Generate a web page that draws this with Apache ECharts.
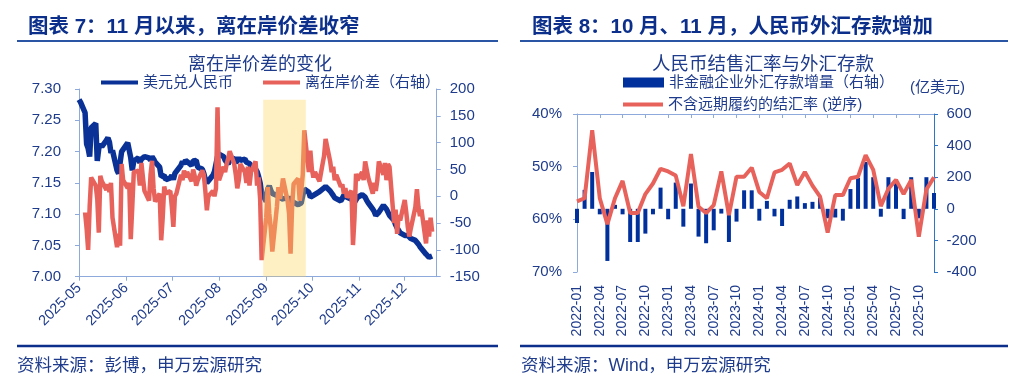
<!DOCTYPE html>
<html><head><meta charset="utf-8">
<script src="https://cdn.jsdelivr.net/npm/echarts@6/dist/echarts.min.js"></script>
<style>html,body{margin:0;padding:0;background:#fff}#c{width:1024px;height:389px}</style>
</head><body><div id="c"></div>
<script>
// ---------- Left chart: 离在岸价差的变化 (daily, 2025) ----------
const fxDays = [
 '05-01','05-02','05-05','05-06','05-07','05-08','05-09','05-12','05-13','05-14','05-15','05-16','05-19','05-20','05-21','05-22','05-23','05-26','05-27','05-28','05-29','05-30',
 '06-02','06-03','06-04','06-05','06-06','06-09','06-10','06-11','06-12','06-13','06-16','06-17','06-18','06-19','06-20','06-23','06-24','06-25','06-26','06-27','06-30',
 '07-01','07-02','07-03','07-04','07-07','07-08','07-09','07-10','07-11','07-14','07-15','07-16','07-17','07-18','07-21','07-22','07-23','07-24','07-25','07-28','07-29','07-30','07-31',
 '08-01','08-04','08-05','08-06','08-07','08-08','08-11','08-12','08-13','08-14','08-15','08-18','08-19','08-20','08-21','08-22','08-25','08-26','08-27','08-28','08-29',
 '09-01','09-02','09-03','09-04','09-05','09-08','09-09','09-10','09-11','09-12','09-15','09-16','09-17','09-18','09-19','09-22','09-23','09-24','09-25','09-26','09-29','09-30',
 '10-01','10-02','10-03','10-06','10-07','10-08','10-09','10-10','10-13','10-14','10-15','10-16','10-17','10-20','10-21','10-22','10-23','10-24','10-27','10-28','10-29','10-30','10-31',
 '11-03','11-04','11-05','11-06','11-07','11-10','11-11','11-12','11-13','11-14','11-17','11-18','11-19','11-20','11-21','11-24','11-25','11-26','11-27','11-28',
 '12-01','12-02','12-03','12-04','12-05','12-08','12-09','12-10','12-11','12-12','12-15','12-16','12-17','12-18','12-19'
];
const usdCny = [
 7.283,7.279,7.262,7.212,7.205,7.192,7.238,7.245,7.185,7.205,7.212,7.208,7.218,7.222,7.215,7.198,7.202,7.170,7.165,7.182,7.200,7.203,
 7.214,7.216,7.190,7.170,7.185,7.190,7.182,7.188,7.186,7.192,7.190,7.186,7.192,7.188,7.183,7.175,7.160,7.158,7.162,7.155,7.158,
 7.162,7.155,7.165,7.168,7.178,7.184,7.180,7.186,7.183,7.178,7.185,7.182,7.186,7.175,7.172,7.165,7.155,7.150,7.153,7.162,7.168,7.180,7.192,
 7.196,7.192,7.186,7.183,7.180,7.186,7.190,7.182,7.185,7.190,7.186,7.188,7.183,7.186,7.181,7.177,7.172,7.168,7.160,7.150,7.135,
 7.120,7.140,7.145,7.138,7.133,7.130,7.127,7.129,7.124,7.122,7.126,7.120,7.128,7.120,7.117,7.115,7.116,7.118,7.130,7.140,7.135,7.127,
 7.128,7.130,7.133,7.136,7.139,7.140,7.143,7.144,7.137,7.136,7.130,7.126,7.123,7.121,7.124,7.130,7.131,7.127,7.124,7.122,7.119,7.121,7.127,
 7.131,7.129,7.127,7.122,7.118,7.108,7.104,7.098,7.096,7.103,7.114,7.112,7.108,7.105,7.098,7.090,7.083,7.078,7.074,7.070,
 7.066,7.068,7.066,7.063,7.061,7.058,7.055,7.052,7.048,7.046,7.036,7.033,7.031,7.034,7.033
];
const cnhSpread = [
 null,null,-30,-60,-100,-20,35,20,-5,-68,38,28,12,22,8,25,-40,-95,-70,-92,60,30,
 15,25,-80,-20,45,48,20,62,35,10,-8,40,66,15,-10,5,-82,-40,18,5,10,
 -20,-57,0,5,40,30,48,35,45,28,50,38,20,30,48,40,10,-26,0,10,0,15,166,
 30,55,45,60,70,84,60,40,15,30,60,45,25,55,20,45,65,20,35,-5,-119,
 -40,17,-32,-60,-103,-20,17,-5,10,33,-8,-32,-107,-20,23,33,-8,10,40,123,45,85,
 50,35,45,28,30,60,75,107,65,45,55,30,40,18,22,5,15,-2,10,-91,-40,42,30,
 45,30,65,50,35,5,25,10,30,65,40,62,30,60,55,-50,-25,-70,-35,-45,
 -7,-30,-57,-75,-60,-20,13,-20,-37,-25,-88,-45,-75,-40,-66
];
const fxYear = '2025-';
const shadeRange = ['2025-08-30','2025-09-27'];

// ---------- Right chart: 人民币结售汇率与外汇存款 (monthly) ----------
const depMonths = [
 '2022-01','2022-02','2022-03','2022-04','2022-05','2022-06','2022-07','2022-08','2022-09','2022-10','2022-11','2022-12',
 '2023-01','2023-02','2023-03','2023-04','2023-05','2023-06','2023-07','2023-08','2023-09','2023-10','2023-11','2023-12',
 '2024-01','2024-02','2024-03','2024-04','2024-05','2024-06','2024-07','2024-08','2024-09','2024-10','2024-11','2024-12',
 '2025-01','2025-02','2025-03','2025-04','2025-05','2025-06','2025-07','2025-08','2025-09','2025-10','2025-11','2025-12'
];
const fxDepositChange = [
 -90,120,233,-35,-330,25,-35,-210,-210,-157,-35,134,
 -66,166,-113,160,-176,-218,-136,-30,-210,-81,117,117,
 -75,50,-48,-109,57,78,36,44,70,-60,-55,-75,
 125,195,297,200,-50,200,170,-65,200,-60,200,100
];
const settleRate = [
 56.6,56.0,43.1,56.0,60.9,56.0,52.7,58.8,58.8,55.2,53.2,50.4,
 50.9,51.7,57.5,47.6,57.6,58.8,57.3,50.9,59.2,51.9,51.9,50.2,
 54.8,56.0,51.1,50.6,49.4,53.5,51.0,53.6,55.7,62.5,55.4,55.4,
 52.2,51.9,47.8,50.6,57.5,54.2,52.5,55.2,52.5,63.3,54.3,52.0
];

const NAVY = '#1F3C8C';
const BLUE = '#0A3296';
const RED = '#E8625C';
const AXIS = '#8EA9DB';
const FONT = '"Liberation Sans", "Noto Sans CJK SC", sans-serif';

const chart = echarts.init(document.getElementById('c'), null, {renderer: 'canvas'});
const txt = (x, y, text, size, opt) => Object.assign({
  type: 'text', x: x, y: y, silent: true,
  style: Object.assign({text: text, fontSize: size, fontFamily: FONT, fill: NAVY, verticalAlign: 'middle', align: 'left'}, opt || {})
});
const rule = (x1, x2, y, w, c) => ({type: 'line', silent: true, shape: {x1: x1, y1: y, x2: x2, y2: y}, style: {stroke: c, lineWidth: w}});
const everyThird = i => i % 3 === 0 && i < depMonths.length - 1;

chart.setOption({
  animation: false,
  backgroundColor: '#fff',
  textStyle: {fontFamily: FONT},
  grid: [
    {left: 79, top: 89, width: 357.7, height: 187.7},
    {left: 577, top: 114, width: 357, height: 158}
  ],
  legend: [
    {data: ['美元兑人民币'], left: 101, top: 75, padding: 0, icon: 'rect', itemWidth: 37, itemHeight: 4, selectedMode: false,
     textStyle: {fontSize: 15, color: NAVY, fontFamily: FONT}},
    {data: ['离在岸价差（右轴）'], left: 263, top: 75, padding: 0, icon: 'rect', itemWidth: 37, itemHeight: 4, selectedMode: false,
     textStyle: {fontSize: 15, color: NAVY, fontFamily: FONT}},
    {data: ['非金融企业外汇存款增量（右轴）'], left: 623, top: 75, padding: 0, icon: 'rect', itemWidth: 41, itemHeight: 10, selectedMode: false,
     textStyle: {fontSize: 15, color: NAVY, fontFamily: FONT}},
    {data: ['不含远期履约的结汇率 (逆序)'], left: 623, top: 97, padding: 0, icon: 'rect', itemWidth: 40, itemHeight: 4, selectedMode: false,
     textStyle: {fontSize: 15, color: NAVY, fontFamily: FONT}}
  ],
  xAxis: [
    {gridIndex: 0, type: 'time', min: '2025-05-01', max: '2025-12-22', splitNumber: 8,
     maxInterval: 31 * 86400000,
     axisLine: {onZero: false, lineStyle: {color: AXIS, width: 1}},
     axisTick: {show: true, length: 4, lineStyle: {color: AXIS}},
     splitLine: {show: false},
     axisLabel: {rotate: 45, formatter: '{yyyy}-{MM}', color: NAVY, fontSize: 14.5, margin: 9, fontFamily: FONT, hideOverlap: false}},
    {gridIndex: 1, type: 'category', data: depMonths, position: 'top', boundaryGap: false,
     axisLine: {onZero: false, lineStyle: {color: AXIS, width: 1}},
     axisTick: {show: true, inside: true, interval: everyThird, length: 4, lineStyle: {color: AXIS}},
     axisLabel: {show: false}, splitLine: {show: false}},
    {gridIndex: 1, type: 'category', data: depMonths, position: 'bottom', boundaryGap: false,
     axisLine: {show: false, onZero: false}, axisTick: {show: false}, splitLine: {show: false},
     axisLabel: {rotate: 90, interval: everyThird, color: NAVY, fontSize: 14, margin: 13, fontFamily: FONT}}
  ],
  yAxis: [
    {gridIndex: 0, type: 'value', min: 7.0, max: 7.3, interval: 0.05, splitLine: {show: false},
     axisLine: {show: true, onZero: false, lineStyle: {color: AXIS}}, axisTick: {show: true, length: 4, lineStyle: {color: AXIS}},
     axisLabel: {formatter: v => v.toFixed(2), color: NAVY, fontSize: 15, margin: 18, fontFamily: FONT}},
    {gridIndex: 0, type: 'value', position: 'right', min: -150, max: 200, interval: 50, splitLine: {show: false},
     axisLine: {show: true, onZero: false, lineStyle: {color: AXIS}}, axisTick: {show: true, length: 4, lineStyle: {color: AXIS}},
     axisLabel: {color: NAVY, fontSize: 15, margin: 13, fontFamily: FONT}},
    {gridIndex: 1, type: 'value', inverse: true, min: 40, max: 70, interval: 10, splitLine: {show: false},
     axisLine: {show: true, onZero: false, lineStyle: {color: AXIS}}, axisTick: {show: true, length: 4, lineStyle: {color: AXIS}},
     axisLabel: {formatter: '{value}%', color: NAVY, fontSize: 15, margin: 15, fontFamily: FONT}},
    {gridIndex: 1, type: 'value', position: 'right', min: -400, max: 600, interval: 200, splitLine: {show: false},
     axisLine: {show: true, onZero: false, lineStyle: {color: '#2E75C6'}}, axisTick: {show: true, length: 4, lineStyle: {color: '#2E75C6'}},
     axisLabel: {color: NAVY, fontSize: 15, margin: 12.5, fontFamily: FONT}}
  ],
  series: [
    {name: '美元兑人民币', type: 'line', xAxisIndex: 0, yAxisIndex: 0, color: BLUE,
     data: fxDays.map((d, i) => [fxYear + d, usdCny[i]]), showSymbol: false, symbol: 'none',
     lineStyle: {width: 5.5, color: BLUE}},
    {name: '离在岸价差（右轴）', type: 'line', xAxisIndex: 0, yAxisIndex: 1, color: RED,
     data: fxDays.map((d, i) => [fxYear + d, cnhSpread[i]]), showSymbol: false, symbol: 'none',
     lineStyle: {width: 4.5, color: RED},
     markArea: {z: 10, silent: true, itemStyle: {color: 'rgba(255,214,90,0.36)'},
       data: [[{xAxis: shadeRange[0], yAxis: -150}, {xAxis: shadeRange[1], yAxis: 180}]]}},
    {name: '非金融企业外汇存款增量（右轴）', type: 'bar', xAxisIndex: 2, yAxisIndex: 3, color: '#00309C',
     data: fxDepositChange, barWidth: 4, itemStyle: {color: '#00309C'}},
    {name: '不含远期履约的结汇率 (逆序)', type: 'line', xAxisIndex: 2, yAxisIndex: 2, color: RED,
     data: settleRate, showSymbol: false, symbol: 'none', lineStyle: {width: 4, color: RED}, z: 3}
  ],
  graphic: {elements: [
    txt(28, 27.5, '图表 7：11 月以来，离在岸价差收窄', 20.5, {fontWeight: 'bold', fill: '#0B2F8A'}),
    txt(532, 27.5, '图表 8：10 月、11 月，人民币外汇存款增加', 20.5, {fontWeight: 'bold', fill: '#0B2F8A'}),
    rule(17, 498, 41, 2, '#2A55A5'),
    rule(520, 1008, 41, 2, '#2A55A5'),
    txt(260, 65, '离在岸价差的变化', 18, {align: 'center'}),
    txt(763, 65, '人民币结售汇率与外汇存款', 18.5, {align: 'center'}),
    txt(910, 87.5, '(亿美元)', 15),
    rule(17, 498, 346, 2.5, '#0B2F8A'),
    rule(520, 1008, 346, 2.5, '#0B2F8A'),
    txt(17, 366.5, '资料来源：彭博，申万宏源研究', 17.5),
    txt(521, 366.5, '资料来源：Wind，申万宏源研究', 17.5)
  ]}
});
</script>
</body></html>
